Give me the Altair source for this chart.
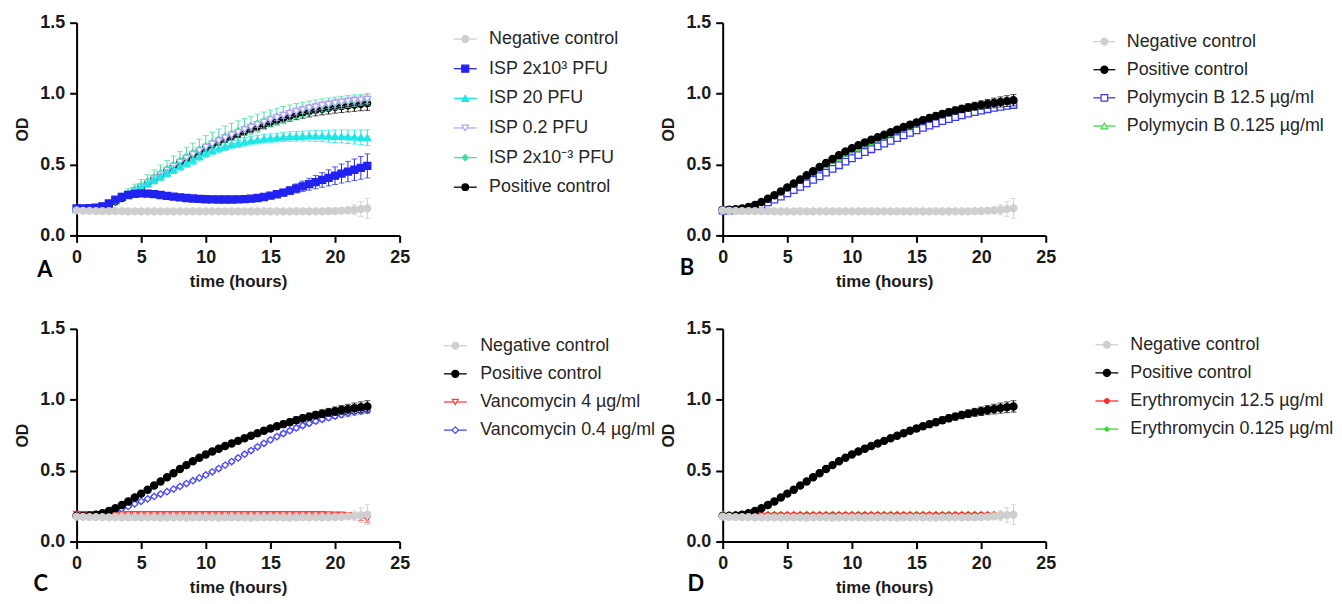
import altair as alt
import pandas as pd

# ---------------- data ----------------
TIME = [0, 0.5, 1, 1.5, 2, 2.5, 3, 3.5, 4, 4.5, 5, 5.5, 6, 6.5, 7, 7.5, 8, 8.5, 9, 9.5,
        10, 10.5, 11, 11.5, 12, 12.5, 13, 13.5, 14, 14.5, 15, 15.5, 16, 16.5, 17, 17.5,
        18, 18.5, 19, 19.5, 20, 20.5, 21, 21.5, 22, 22.5]

NEG = [0.176, 0.174, 0.173, 0.172, 0.172, 0.171, 0.171, 0.171, 0.170, 0.170,
       0.170, 0.170, 0.170, 0.169, 0.170, 0.170, 0.170, 0.169, 0.170, 0.170,
       0.170, 0.170, 0.169, 0.170, 0.170, 0.170, 0.170, 0.169, 0.170, 0.170,
       0.170, 0.170, 0.170, 0.169, 0.170, 0.170, 0.170, 0.170, 0.170, 0.171,
       0.172, 0.174, 0.177, 0.181, 0.186, 0.190]
NEG_ERR = [0.004, 0.004, 0.004, 0.004, 0.004, 0.004, 0.004, 0.004, 0.004, 0.004,
           0.004, 0.004, 0.004, 0.004, 0.004, 0.004, 0.004, 0.004, 0.004, 0.004,
           0.004, 0.004, 0.004, 0.004, 0.004, 0.004, 0.004, 0.004, 0.004, 0.004,
           0.004, 0.004, 0.004, 0.004, 0.004, 0.005, 0.005, 0.006, 0.007, 0.008,
           0.010, 0.014, 0.022, 0.035, 0.052, 0.070]

POS = [0.180, 0.181, 0.184, 0.190, 0.200, 0.215, 0.235, 0.258, 0.283, 0.310,
       0.338, 0.366, 0.395, 0.424, 0.453, 0.482, 0.511, 0.539, 0.566, 0.591,
       0.614, 0.635, 0.655, 0.674, 0.692, 0.710, 0.728, 0.746, 0.764, 0.781,
       0.797, 0.813, 0.828, 0.842, 0.856, 0.869, 0.881, 0.892, 0.902, 0.911,
       0.919, 0.927, 0.934, 0.941, 0.947, 0.953]
POS_ERR = [0.005, 0.005, 0.005, 0.005, 0.005, 0.006, 0.006, 0.007, 0.007, 0.008,
           0.008, 0.009, 0.009, 0.010, 0.010, 0.011, 0.011, 0.012, 0.012, 0.013,
           0.013, 0.014, 0.014, 0.015, 0.015, 0.016, 0.016, 0.017, 0.017, 0.018,
           0.019, 0.020, 0.021, 0.022, 0.023, 0.024, 0.025, 0.026, 0.027, 0.028,
           0.030, 0.032, 0.034, 0.036, 0.038, 0.040]

# Panel A
A_POS = [0.180, 0.181, 0.184, 0.190, 0.200, 0.216, 0.237, 0.261, 0.287, 0.314,
         0.342, 0.370, 0.399, 0.428, 0.457, 0.486, 0.514, 0.542, 0.568, 0.593,
         0.617, 0.639, 0.660, 0.680, 0.699, 0.717, 0.735, 0.752, 0.768, 0.784,
         0.799, 0.813, 0.827, 0.840, 0.852, 0.863, 0.873, 0.882, 0.890, 0.897,
         0.904, 0.910, 0.915, 0.920, 0.925, 0.930]
A_POS_ERR = [0.005, 0.005, 0.005, 0.006, 0.006, 0.007, 0.008, 0.009, 0.010, 0.011,
             0.012, 0.013, 0.014, 0.015, 0.016, 0.017, 0.018, 0.019, 0.020, 0.021,
             0.022, 0.023, 0.024, 0.025, 0.026, 0.027, 0.028, 0.029, 0.030, 0.031,
             0.032, 0.033, 0.034, 0.035, 0.036, 0.037, 0.038, 0.039, 0.040, 0.041,
             0.042, 0.043, 0.044, 0.045, 0.046, 0.048]
A_ISP_2E3 = [0.190, 0.190, 0.192, 0.196, 0.205, 0.225, 0.252, 0.272, 0.285, 0.293,
             0.296, 0.295, 0.291, 0.285, 0.279, 0.273, 0.268, 0.264, 0.260, 0.257,
             0.255, 0.254, 0.253, 0.253, 0.253, 0.254, 0.256, 0.259, 0.264, 0.271,
             0.280, 0.290, 0.302, 0.316, 0.331, 0.346, 0.361, 0.376, 0.391, 0.406,
             0.421, 0.436, 0.450, 0.463, 0.476, 0.490]
A_ISP_2E3_ERR = [0.005, 0.005, 0.005, 0.006, 0.006, 0.007, 0.008, 0.009, 0.010, 0.010,
                 0.010, 0.010, 0.010, 0.010, 0.010, 0.010, 0.010, 0.010, 0.010, 0.010,
                 0.010, 0.010, 0.010, 0.010, 0.010, 0.011, 0.012, 0.013, 0.014, 0.016,
                 0.018, 0.021, 0.024, 0.028, 0.032, 0.037, 0.042, 0.047, 0.052, 0.057,
                 0.062, 0.067, 0.072, 0.076, 0.080, 0.085]
A_ISP_20 = [0.185, 0.186, 0.189, 0.195, 0.205, 0.222, 0.245, 0.268, 0.292, 0.316,
            0.340, 0.365, 0.390, 0.415, 0.440, 0.464, 0.487, 0.509, 0.530, 0.556,
            0.580, 0.598, 0.615, 0.628, 0.640, 0.650, 0.660, 0.668, 0.675, 0.681,
            0.686, 0.690, 0.694, 0.697, 0.699, 0.700, 0.701, 0.701, 0.701, 0.700,
            0.699, 0.698, 0.696, 0.694, 0.692, 0.690]
A_ISP_20_ERR = [0.005, 0.005, 0.005, 0.006, 0.007, 0.008, 0.010, 0.012, 0.014, 0.016,
                0.018, 0.020, 0.022, 0.024, 0.026, 0.027, 0.028, 0.029, 0.030, 0.030,
                0.030, 0.030, 0.030, 0.030, 0.030, 0.030, 0.030, 0.030, 0.030, 0.030,
                0.030, 0.031, 0.032, 0.033, 0.034, 0.035, 0.036, 0.038, 0.040, 0.042,
                0.044, 0.046, 0.048, 0.050, 0.052, 0.055]
A_ISP_02 = [0.185, 0.186, 0.189, 0.195, 0.205, 0.221, 0.242, 0.265, 0.290, 0.316,
            0.343, 0.371, 0.400, 0.429, 0.458, 0.487, 0.516, 0.544, 0.571, 0.597,
            0.621, 0.644, 0.666, 0.687, 0.707, 0.726, 0.745, 0.763, 0.781, 0.798,
            0.815, 0.831, 0.846, 0.860, 0.873, 0.885, 0.896, 0.906, 0.915, 0.923,
            0.931, 0.938, 0.944, 0.950, 0.955, 0.960]
A_ISP_02_ERR = [0.005, 0.005, 0.005, 0.006, 0.007, 0.008, 0.009, 0.010, 0.011, 0.012,
                0.013, 0.014, 0.015, 0.016, 0.017, 0.018, 0.019, 0.020, 0.020, 0.020,
                0.020, 0.020, 0.020, 0.020, 0.020, 0.020, 0.020, 0.020, 0.020, 0.020,
                0.020, 0.021, 0.022, 0.023, 0.024, 0.025, 0.026, 0.027, 0.028, 0.029,
                0.030, 0.030, 0.030, 0.030, 0.030, 0.030]
A_ISP_2EM3 = [0.185, 0.186, 0.190, 0.197, 0.208, 0.225, 0.248, 0.273, 0.299, 0.326,
              0.354, 0.383, 0.412, 0.441, 0.470, 0.499, 0.528, 0.556, 0.583, 0.609,
              0.633, 0.656, 0.678, 0.699, 0.719, 0.738, 0.756, 0.774, 0.791, 0.808,
              0.824, 0.839, 0.853, 0.866, 0.878, 0.889, 0.899, 0.908, 0.916, 0.924,
              0.931, 0.938, 0.944, 0.950, 0.955, 0.960]
A_ISP_2EM3_ERR = [0.005, 0.006, 0.007, 0.009, 0.012, 0.016, 0.020, 0.025, 0.030, 0.035,
                  0.040, 0.045, 0.050, 0.055, 0.058, 0.061, 0.064, 0.066, 0.068, 0.070,
                  0.071, 0.072, 0.072, 0.072, 0.071, 0.070, 0.068, 0.066, 0.064, 0.062,
                  0.060, 0.058, 0.056, 0.054, 0.052, 0.050, 0.048, 0.047, 0.046, 0.045,
                  0.044, 0.043, 0.042, 0.041, 0.040, 0.040]

# Panel B
B_PB_125 = [0.175, 0.176, 0.178, 0.182, 0.189, 0.200, 0.215, 0.233, 0.253, 0.274,
            0.296, 0.319, 0.343, 0.367, 0.392, 0.417, 0.443, 0.469, 0.495, 0.520,
            0.544, 0.566, 0.588, 0.608, 0.628, 0.648, 0.667, 0.686, 0.705, 0.723,
            0.741, 0.758, 0.775, 0.791, 0.806, 0.820, 0.834, 0.847, 0.859, 0.870,
            0.880, 0.890, 0.899, 0.907, 0.914, 0.920]
B_PB_125_ERR = [0.004, 0.004, 0.004, 0.004, 0.005, 0.005, 0.005, 0.006, 0.006, 0.006,
                0.007, 0.007, 0.007, 0.008, 0.008, 0.008, 0.009, 0.009, 0.009, 0.010,
                0.010, 0.010, 0.010, 0.011, 0.011, 0.011, 0.011, 0.012, 0.012, 0.012,
                0.012, 0.013, 0.013, 0.013, 0.013, 0.014, 0.014, 0.014, 0.014, 0.015,
                0.015, 0.015, 0.016, 0.016, 0.017, 0.018]
B_PB_0125 = [0.180, 0.181, 0.184, 0.190, 0.200, 0.214, 0.233, 0.255, 0.279, 0.305,
             0.332, 0.359, 0.387, 0.415, 0.443, 0.471, 0.499, 0.526, 0.552, 0.577,
             0.600, 0.621, 0.641, 0.660, 0.678, 0.696, 0.714, 0.732, 0.750, 0.767,
             0.784, 0.800, 0.816, 0.831, 0.845, 0.858, 0.870, 0.882, 0.893, 0.903,
             0.912, 0.920, 0.928, 0.935, 0.941, 0.947]
B_PB_0125_ERR = [0.004, 0.004, 0.004, 0.005, 0.005, 0.005, 0.006, 0.006, 0.006, 0.007,
                 0.007, 0.007, 0.008, 0.008, 0.008, 0.009, 0.009, 0.009, 0.010, 0.010,
                 0.010, 0.011, 0.011, 0.011, 0.012, 0.012, 0.012, 0.013, 0.013, 0.013,
                 0.014, 0.014, 0.014, 0.015, 0.015, 0.015, 0.016, 0.016, 0.016, 0.017,
                 0.017, 0.018, 0.018, 0.019, 0.019, 0.020]

# Panel C
C_VAN_4 = [0.194, 0.193, 0.193, 0.193, 0.193, 0.192, 0.192, 0.192, 0.192, 0.192,
           0.192, 0.192, 0.192, 0.192, 0.192, 0.192, 0.192, 0.192, 0.192, 0.192,
           0.192, 0.192, 0.192, 0.192, 0.192, 0.192, 0.192, 0.192, 0.192, 0.192,
           0.192, 0.192, 0.192, 0.192, 0.192, 0.192, 0.192, 0.192, 0.192, 0.191,
           0.190, 0.189, 0.186, 0.178, 0.168, 0.160]
C_VAN_4_ERR = [0.003, 0.003, 0.003, 0.003, 0.003, 0.003, 0.003, 0.003, 0.003, 0.003,
               0.003, 0.003, 0.003, 0.003, 0.003, 0.003, 0.003, 0.003, 0.003, 0.003,
               0.003, 0.003, 0.003, 0.003, 0.003, 0.003, 0.003, 0.003, 0.003, 0.003,
               0.003, 0.003, 0.003, 0.003, 0.003, 0.003, 0.003, 0.003, 0.003, 0.004,
               0.004, 0.006, 0.010, 0.015, 0.020, 0.025]
C_VAN_04 = [0.185, 0.186, 0.188, 0.192, 0.198, 0.207, 0.218, 0.232, 0.248, 0.266,
            0.284, 0.301, 0.318, 0.335, 0.352, 0.370, 0.389, 0.409, 0.429, 0.449,
            0.470, 0.492, 0.515, 0.539, 0.564, 0.590, 0.616, 0.642, 0.668, 0.693,
            0.717, 0.740, 0.762, 0.782, 0.801, 0.818, 0.834, 0.849, 0.862, 0.874,
            0.885, 0.895, 0.904, 0.912, 0.919, 0.925]
C_VAN_04_ERR = [0.004, 0.004, 0.004, 0.004, 0.005, 0.005, 0.005, 0.006, 0.006, 0.006,
                0.007, 0.007, 0.007, 0.008, 0.008, 0.008, 0.009, 0.009, 0.009, 0.010,
                0.010, 0.010, 0.011, 0.011, 0.011, 0.012, 0.012, 0.012, 0.013, 0.013,
                0.013, 0.014, 0.014, 0.014, 0.015, 0.015, 0.016, 0.016, 0.017, 0.017,
                0.018, 0.018, 0.019, 0.019, 0.020, 0.020]

# Panel D
D_ERY_125 = [0.190, 0.190, 0.190, 0.190, 0.190, 0.190, 0.190, 0.190, 0.190, 0.190,
             0.190, 0.190, 0.190, 0.190, 0.190, 0.190, 0.190, 0.190, 0.190, 0.190,
             0.190, 0.190, 0.190, 0.190, 0.190, 0.190, 0.190, 0.190, 0.190, 0.190,
             0.190, 0.190, 0.190, 0.190, 0.190, 0.190, 0.190, 0.190, 0.190, 0.190,
             0.190, 0.190, 0.190, 0.189, 0.189, 0.189]
D_ERY_125_ERR = [0.003, 0.003, 0.003, 0.003, 0.003, 0.003, 0.003, 0.003, 0.003, 0.003,
                 0.003, 0.003, 0.003, 0.003, 0.003, 0.003, 0.003, 0.003, 0.003, 0.003,
                 0.003, 0.003, 0.003, 0.003, 0.003, 0.003, 0.003, 0.003, 0.003, 0.003,
                 0.003, 0.003, 0.003, 0.003, 0.003, 0.003, 0.003, 0.003, 0.003, 0.003,
                 0.003, 0.003, 0.003, 0.003, 0.003, 0.003]
D_ERY_0125 = [0.197, 0.197, 0.197, 0.197, 0.197, 0.197, 0.197, 0.197, 0.197, 0.197,
              0.197, 0.197, 0.197, 0.197, 0.197, 0.197, 0.197, 0.197, 0.197, 0.197,
              0.197, 0.197, 0.197, 0.197, 0.197, 0.197, 0.197, 0.197, 0.197, 0.197,
              0.197, 0.197, 0.197, 0.197, 0.197, 0.197, 0.197, 0.197, 0.197, 0.197,
              0.197, 0.197, 0.197, 0.197, 0.196, 0.196]
D_ERY_0125_ERR = D_ERY_125_ERR

# labels
LBL_NEG = "Negative control"
LBL_POS = "Positive control"
LEGEND_A = [LBL_NEG, "ISP 2x10\u00b3 PFU", "ISP 20 PFU", "ISP 0.2 PFU",
            "ISP 2x10\u207b\u00b3 PFU", LBL_POS]
LEGEND_B = [LBL_NEG, LBL_POS, "Polymycin B 12.5 \u00b5g/ml", "Polymycin B 0.125 \u00b5g/ml"]
LEGEND_C = [LBL_NEG, LBL_POS, "Vancomycin 4 \u00b5g/ml", "Vancomycin 0.4 \u00b5g/ml"]
LEGEND_D = [LBL_NEG, LBL_POS, "Erythromycin 12.5 \u00b5g/ml", "Erythromycin 0.125 \u00b5g/ml"]
X_TICKS = [0, 5, 10, 15, 20, 25]
Y_TICKS = [0, 0.5, 1.0, 1.5]

# ---------------- styles ----------------
FONT = "Liberation Sans"
W, H = 325, 214
WL1, WL2 = 245.5, 200
GRAY, BLACK = "#cfcfcf", "#000000"

# (values, errors, color, shape, fill, size) in legend order
SER_A = [
    (NEG, NEG_ERR, GRAY, "circle", GRAY, 48),
    (A_ISP_2E3, A_ISP_2E3_ERR, "#2222f0", "square", "#2222f0", 50),
    (A_ISP_20, A_ISP_20_ERR, "#1de6e6", "triangle-up", "#1de6e6", 48),
    (A_ISP_02, A_ISP_02_ERR, "#b3a9f2", "triangle-down", "white", 46),
    (A_ISP_2EM3, A_ISP_2EM3_ERR, "#3ee0a0", "diamond", "#3ee0a0", 38),
    (A_POS, A_POS_ERR, BLACK, "circle", BLACK, 44),
]
SER_B = [
    (NEG, NEG_ERR, GRAY, "circle", GRAY, 48),
    (POS, POS_ERR, BLACK, "circle", BLACK, 52),
    (B_PB_125, B_PB_125_ERR, "#3a3aff", "square", "white", 44),
    (B_PB_0125, B_PB_0125_ERR, "#38e038", "triangle-up", "white", 44),
]
SER_C = [
    (NEG, NEG_ERR, GRAY, "circle", GRAY, 48),
    (POS, POS_ERR, BLACK, "circle", BLACK, 52),
    (C_VAN_4, C_VAN_4_ERR, "#ff3c3c", "triangle-down", "white", 36),
    (C_VAN_04, C_VAN_04_ERR, "#4646ff", "diamond", "white", 42),
]
SER_D = [
    (NEG, NEG_ERR, GRAY, "circle", GRAY, 48),
    (POS, POS_ERR, BLACK, "circle", BLACK, 52),
    (D_ERY_125, D_ERY_125_ERR, "#ff2a2a", "circle", "#ff2a2a", 22),
    (D_ERY_0125, D_ERY_0125_ERR, "#2ee02e", "diamond", "#2ee02e", 20),
]


def xenc():
    return alt.X("t:Q", scale=alt.Scale(domain=[0, 25], nice=False, zero=False),
                 axis=alt.Axis(values=X_TICKS, format="d", title="time (hours)"))


def yenc(field):
    return alt.Y(field + ":Q", scale=alt.Scale(domain=[0, 1.5], nice=False),
                 axis=alt.Axis(values=Y_TICKS, format=".1f", title="OD"))


def panel(series, letter, ldx, ldy):
    layers = []
    for vals, errs, color, shape, fill, size in reversed(series):
        df = pd.DataFrame({"t": TIME, "od": vals, "err": errs})
        df["lo"] = df["od"] - df["err"]
        df["hi"] = df["od"] + df["err"]
        base = alt.Chart(df)
        layers.append(base.mark_rule(color=color, strokeWidth=1).encode(
            x=xenc(), y=yenc("lo"), y2="hi:Q"))
        layers.append(base.mark_tick(color=color, orient="horizontal", size=6, thickness=1).encode(
            x=xenc(), y=yenc("hi")))
        layers.append(base.mark_tick(color=color, orient="horizontal", size=6, thickness=1).encode(
            x=xenc(), y=yenc("lo")))
        layers.append(base.mark_line(color=color, strokeWidth=1).encode(x=xenc(), y=yenc("od")))
        layers.append(base.mark_point(shape=shape, size=size, filled=True, fill=fill, stroke=color,
                                      strokeWidth=1.3, opacity=1, fillOpacity=1).encode(
            x=xenc(), y=yenc("od")))
    lab = alt.Chart(pd.DataFrame({"lab": [letter]})).mark_text(
        font="Lato", fontSize=22, fontWeight="bold", align="center", baseline="middle",
        color="black").encode(x=alt.value(ldx), y=alt.value(H + ldy), text="lab:N")
    layers.append(lab)
    return alt.layer(*layers).properties(width=W, height=H)


def legend(series, names, width, y0, step, xl0, xl1, xm, xt):
    df = pd.DataFrame({
        "name": names,
        "row": list(range(len(names))),
        "color": [s[2] for s in series],
        "shape": [s[3] for s in series],
        "fill": [s[4] for s in series],
        "size": [s[5] for s in series],
    })
    yr = alt.Y("row:Q", scale=alt.Scale(domain=[0, 1], range=[y0, y0 + step], nice=False,
                                        zero=False), axis=None)
    base = alt.Chart(df)
    rule = base.mark_rule(strokeWidth=1.3).encode(
        x=alt.value(xl0), x2=alt.value(xl1), y=yr, color=alt.Color("color:N", scale=None))
    pts = base.mark_point(filled=True, opacity=1, fillOpacity=1, strokeWidth=1.2).encode(
        x=alt.value(xm), y=yr,
        shape=alt.Shape("shape:N", scale=None),
        fill=alt.Fill("fill:N", scale=None),
        stroke=alt.Stroke("color:N", scale=None),
        size=alt.Size("size:Q", scale=None))
    txt = base.mark_text(align="left", baseline="middle", font=FONT, fontSize=18,
                         color="#262626").encode(x=alt.value(xt), y=yr, text="name:N")
    return alt.layer(rule, pts, txt).properties(width=width, height=H)


pA = panel(SER_A, "A", -32, 35)
pB = panel(SER_B, "B", -36, 33)
pC = panel(SER_C, "C", -36, 43)
pD = panel(SER_D, "D", -27, 43)
lA = legend(SER_A, LEGEND_A, WL1, 16.5, 29.8, 15, 38, 26.5, 50.5)
lB = legend(SER_B, LEGEND_B, WL2, 19, 28.3, 8.5, 30.5, 19.5, 42)
lC = legend(SER_C, LEGEND_C, WL1, 17, 28.3, 5, 28, 16.5, 41.5)
lD = legend(SER_D, LEGEND_D, WL2, 16, 28.3, 10.5, 33.5, 22, 45.5)

chart = alt.concat(pA, lA, pB, lB, pC, lC, pD, lD, columns=4,
                   spacing={"row": 94, "column": 39.5}, bounds="flush").resolve_scale(
    x="independent", y="independent"
).properties(
    padding={"left": 6, "top": 4, "right": 0, "bottom": 0}
).configure_view(strokeWidth=0).configure_axis(
    domainColor="#000000", domainWidth=2, tickColor="#000000", tickWidth=2, tickSize=7,
    labelFont=FONT, labelFontSize=18, labelFontWeight="bold", labelColor="#1a1a1a",
    titleFont=FONT, titleFontSize=17, titleFontWeight="bold", titleColor="#1a1a1a",
    grid=False, labelFlush=False
).configure_axisX(labelPadding=6, titlePadding=7).configure_axisY(
    labelPadding=5, titlePadding=9, titleFontSize=16)

chart.save("out.html", embed_options={"renderer": "svg", "actions": False})
